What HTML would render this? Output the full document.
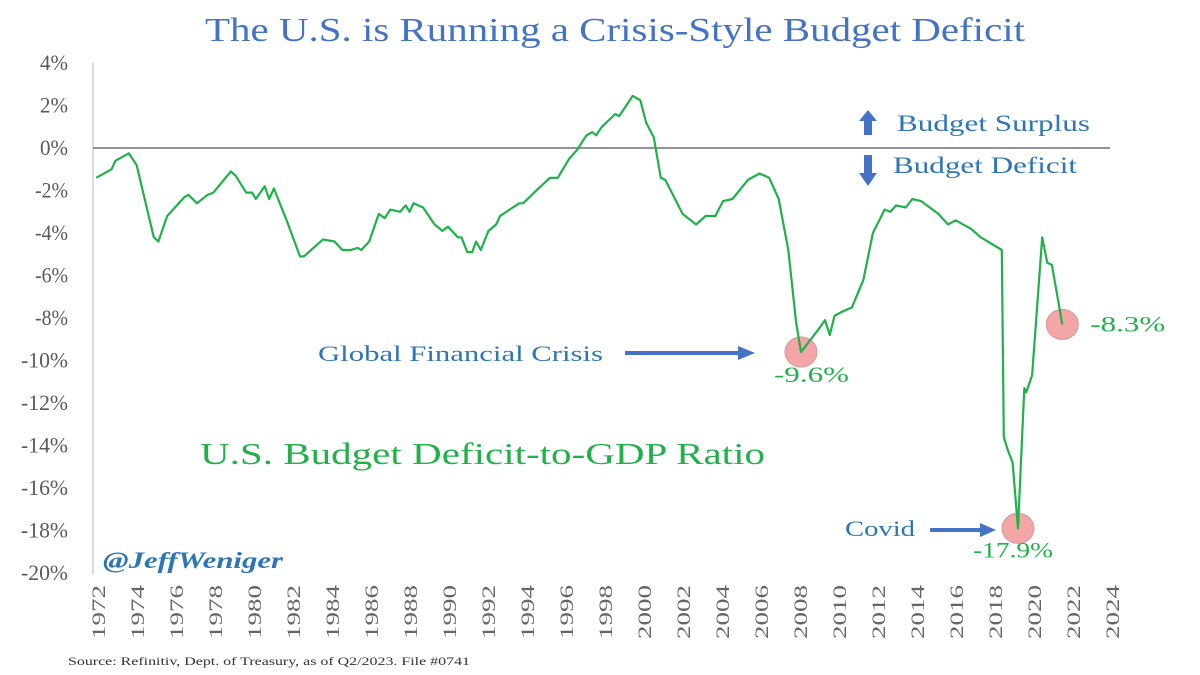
<!DOCTYPE html>
<html><head><meta charset="utf-8"><style>
body{margin:0;background:#fff;}
svg{display:block;}
</style></head><body>
<svg id="chart" width="1200" height="675" viewBox="0 0 1200 675" xmlns="http://www.w3.org/2000/svg">
<text x="205" y="41" textLength="820" lengthAdjust="spacingAndGlyphs" font-family="Liberation Serif, serif" font-size="34" fill="#4472c4">The U.S. is Running a Crisis-Style Budget Deficit</text>
<line x1="93" y1="63" x2="93" y2="575" stroke="#d0d0d0" stroke-width="1.5"/>
<g id="yticks"></g>
<g id="xticks"></g>
<line id="zero" x1="93" x2="1110" stroke="#555" stroke-width="1.3"/>
<g id="marks"></g>
<g>
<polygon points="868,110 877,121 872,121 872,135 864,135 864,121 859,121" fill="#4472c4"/>
<text x="897" y="131" textLength="193" lengthAdjust="spacingAndGlyphs" font-family="Liberation Serif, serif" font-size="23" fill="#2e75b6">Budget Surplus</text>
</g>
<g>
<polygon points="864,155 872,155 872,173 877,173 868,186 859,173 864,173" fill="#4472c4"/>
<text x="893" y="173" textLength="184" lengthAdjust="spacingAndGlyphs" font-family="Liberation Serif, serif" font-size="23" fill="#2e75b6">Budget Deficit</text>
</g>
<text x="200" y="464" textLength="565" lengthAdjust="spacingAndGlyphs" font-family="Liberation Serif, serif" font-size="31" fill="#22b04b">U.S. Budget Deficit-to-GDP Ratio</text>
<g>
<text x="318" y="361" textLength="285" lengthAdjust="spacingAndGlyphs" font-family="Liberation Serif, serif" font-size="22" fill="#2e75b6">Global Financial Crisis</text>
<line x1="625" y1="353" x2="740" y2="353" stroke="#4472c4" stroke-width="4"/>
<polygon points="738,346 755,353 738,360" fill="#4472c4"/>
</g>
<g>
<text x="845" y="536" textLength="70" lengthAdjust="spacingAndGlyphs" font-family="Liberation Serif, serif" font-size="22" fill="#2e75b6">Covid</text>
<line x1="930" y1="530" x2="982" y2="530" stroke="#4472c4" stroke-width="4"/>
<polygon points="980,523 996,530 980,537" fill="#4472c4"/>
</g>
<text x="103" y="568" textLength="180" lengthAdjust="spacingAndGlyphs" font-family="Liberation Serif, serif" font-size="23" font-weight="bold" font-style="italic" fill="#2e75b6">@JeffWeniger</text>
<text x="68" y="665" textLength="402" lengthAdjust="spacingAndGlyphs" font-family="Liberation Serif, serif" font-size="12" fill="#333">Source: Refinitiv, Dept. of Treasury, as of Q2/2023. File #0741</text>
</svg>
<script>
const yTickValues=[4,2,0,-2,-4,-6,-8,-10,-12,-14,-16,-18,-20];
const xTickYears=[1972,1974,1976,1978,1980,1982,1984,1986,1988,1990,1992,1994,1996,1998,2000,2002,2004,2006,2008,2010,2012,2014,2016,2018,2020,2022,2024];
const years=[1971.91,1972.69,1972.89,1973.58,1973.98,1974.86,1975.10,1975.55,1976.44,1976.64,1977.07,1977.63,1977.92,1978.81,1979.05,1979.60,1979.90,1980.09,1980.55,1980.78,1981.02,1981.67,1982.36,1982.56,1983.54,1984.13,1984.53,1984.96,1985.32,1985.51,1985.91,1986.40,1986.70,1986.99,1987.49,1987.78,1987.98,1988.18,1988.67,1989.26,1989.66,1989.95,1990.45,1990.64,1990.94,1991.19,1991.39,1991.63,1992.02,1992.42,1992.62,1993.11,1993.60,1993.80,1994.59,1995.18,1995.58,1996.17,1996.56,1997.05,1997.35,1997.55,1997.84,1998.53,1998.73,1999.42,1999.81,2000.11,2000.50,2000.86,2001.09,2001.98,2002.67,2003.16,2003.66,2004.05,2004.54,2005.33,2005.93,2006.42,2006.91,2007.40,2007.80,2008.05,2008.98,2009.28,2009.53,2009.77,2010.17,2010.66,2011.25,2011.74,2012.34,2012.63,2012.93,2013.42,2013.76,2014.21,2015.10,2015.59,2015.98,2016.77,2017.27,2018.35,2018.45,2018.65,2018.90,2019.18,2019.50,2019.60,2019.90,2020.42,2020.68,2020.92,2021.45];
const deficit=[-1.4,-1.0,-0.6,-0.25,-0.8,-4.2,-4.4,-3.2,-2.3,-2.2,-2.6,-2.2,-2.1,-1.1,-1.3,-2.1,-2.1,-2.4,-1.8,-2.4,-1.9,-3.4,-5.1,-5.1,-4.3,-4.4,-4.8,-4.8,-4.7,-4.8,-4.4,-3.1,-3.3,-2.9,-3.0,-2.7,-3.0,-2.6,-2.8,-3.6,-3.9,-3.7,-4.2,-4.2,-4.9,-4.9,-4.4,-4.8,-3.9,-3.6,-3.2,-2.9,-2.6,-2.6,-1.9,-1.4,-1.4,-0.5,-0.1,0.6,0.75,0.6,1.0,1.6,1.5,2.45,2.25,1.2,0.5,-1.4,-1.5,-3.1,-3.6,-3.2,-3.2,-2.5,-2.4,-1.5,-1.2,-1.4,-2.4,-4.8,-8.2,-9.6,-8.5,-8.1,-8.8,-7.9,-7.7,-7.5,-6.2,-4.0,-2.9,-3.0,-2.7,-2.8,-2.4,-2.5,-3.1,-3.6,-3.4,-3.8,-4.2,-4.8,-13.6,-14.2,-14.8,-17.9,-11.3,-11.5,-10.7,-4.2,-5.4,-5.5,-8.3];
const calloutYears=[2008.05,2019.18,2021.45];
const calloutValues=[-9.6,-17.9,-8.3];
const calloutLabels=["-9.6%","-17.9%","-8.3%"];

const NS="http://www.w3.org/2000/svg";
const X=y=>98+(y-1972)*19.5;
const Y=v=>148-v*21.25;
function mk(tag,attrs,parent){const e=document.createElementNS(NS,tag);for(const k in attrs)e.setAttribute(k,attrs[k]);parent.appendChild(e);return e;}
document.getElementById('zero').setAttribute('y1',Y(0));
document.getElementById('zero').setAttribute('y2',Y(0));
const yt=document.getElementById('yticks');
yTickValues.forEach(v=>{
 const s=String(v)+'%';
 const w=(v<0?5:0)+(s.replace('-','').length)*14;
 const t=mk('text',{x:68-w,y:Y(v)+7,textLength:w,lengthAdjust:'spacingAndGlyphs','font-family':'Liberation Serif, serif','font-size':22,fill:'#595959'},yt);
 
 
 t.textContent=s;
});
const xt=document.getElementById('xticks');
xTickYears.forEach(yr=>{
 const t=mk('text',{transform:`translate(${X(yr)+7},585) rotate(-90)`,'text-anchor':'end',textLength:54,lengthAdjust:'spacingAndGlyphs','font-family':'Liberation Serif, serif','font-size':19,fill:'#666'},xt);
 
 
 t.textContent=yr;
});
const g=document.getElementById('marks');
calloutYears.forEach((yr,i)=>{
 const c=mk('ellipse',{cx:X(yr),cy:Y(calloutValues[i]),rx:16,ry:15,fill:'#f4a6a6',stroke:'#c99','stroke-width':1},g);
 
 
});
const pts=years.map((yr,i)=>X(yr).toFixed(1)+','+Y(deficit[i]).toFixed(1)).join(' ');
const line=mk('polyline',{points:pts,fill:'none',stroke:'#1fb14a','stroke-width':2.2,'stroke-linejoin':'round'},g);


const off=[[-27,30],[-45,29],[28,7]];
const lw=[75,80,75];
calloutYears.forEach((yr,i)=>{
 const t=mk('text',{x:X(yr)+off[i][0],y:Y(calloutValues[i])+off[i][1],textLength:lw[i],lengthAdjust:'spacingAndGlyphs','font-family':'Liberation Serif, serif','font-size':22,fill:'#22b04b'},g);
 
 
 t.textContent=calloutLabels[i];
});
</script>
</body></html>
